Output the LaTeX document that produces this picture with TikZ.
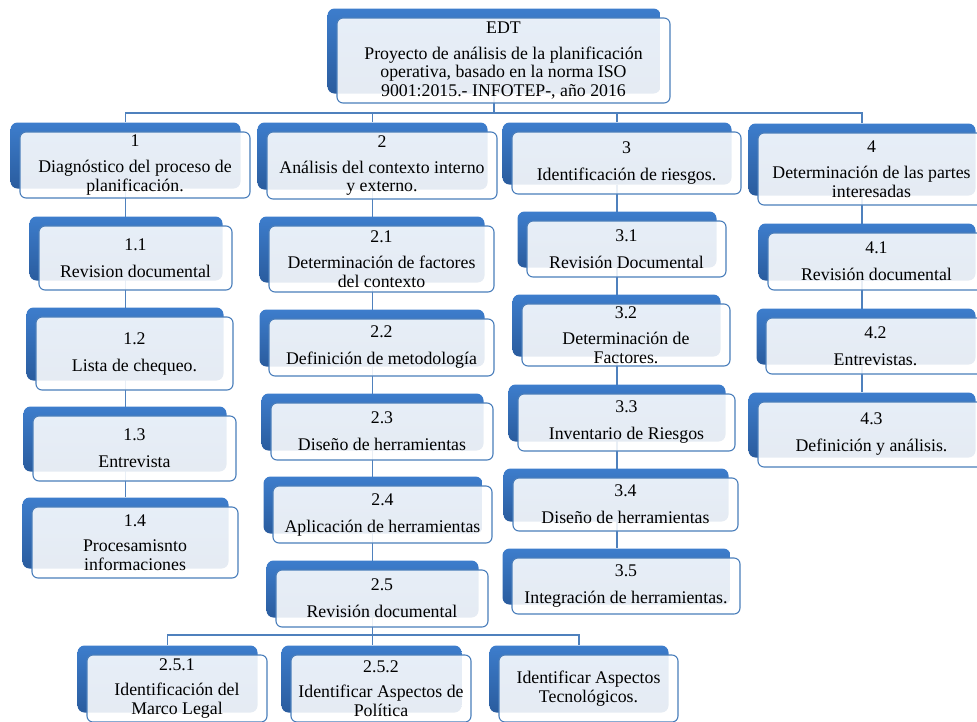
\documentclass[tikz,border=0pt]{standalone}
\usepackage{fontspec}
\setmainfont{Liberation Serif}
\usetikzlibrary{calc}
\definecolor{backtop}{HTML}{3D7DCC}
\definecolor{backbot}{HTML}{2A5C9E}
\definecolor{edge}{HTML}{4A7EBB}
\definecolor{linkc}{HTML}{4F81BD}
\pgfdeclarelayer{bg}
\pgfsetlayers{bg,main}
\tikzset{
  backbox/.style={rounded corners=7pt, top color=backtop, bottom color=backbot,
    draw=none, inner sep=0pt},
  frontbox/.style={rounded corners=6pt, draw=edge, line width=1.1pt, fill=white,
    fill opacity=0.88, text opacity=1, inner sep=0pt, align=center,
    font=\fontsize{17.8}{18.5}\selectfont},
  conn/.style={draw=linkc, line width=1.3pt},
}
% a work package: back plate shifted up-left, translucent front card with the text
\newcommand\wbsbox[6]{%
  \node[backbox, minimum width={(#4-#2)*1pt}, minimum height={(#5-#3)*1pt}]
    (#1-b) at ({(#2+#4)/2-9.5},{(#3+#5)/2-9.5}) {};
  \node[frontbox, minimum width={(#4-#2)*1pt}, minimum height={(#5-#3)*1pt}]
    (#1) at ({(#2+#4)/2},{(#3+#5)/2}) {#6};
}
\begin{document}
\begin{tikzpicture}[x=1pt,y=-1pt]
\useasboundingbox (0,0) rectangle (977,721);
\clip (0,0) rectangle (977,721);

% root
\wbsbox{edt}{337}{18}{670}{103}{EDT\\[7.5pt]Proyecto de análisis de la planificación\\operativa, basado en la norma ISO\\9001:2015.- INFOTEP-, año 2016}

% first level
\wbsbox{n1}{20}{132}{250}{198}{1\\[7.5pt]Diagnóstico del proceso de\\planificación.}
\wbsbox{n2}{267}{132}{497}{199}{2\\[7.5pt]Análisis del contexto interno\\y externo.}
\wbsbox{n3}{512}{132}{741}{194}{3\\[8.5pt]Identificación de riesgos.}
\wbsbox{n4}{758}{133}{985}{205}{4\\[7.5pt]Determinación de las partes\\interesadas}

% branch 1
\wbsbox{n11}{39}{226}{232}{290}{1.1\\[8.5pt]Revision documental}
\wbsbox{n12}{36}{317}{233}{390}{1.2\\[8.5pt]Lista de chequeo.}
\wbsbox{n13}{33}{416}{236}{481}{1.3\\[8.5pt]Entrevista}
\wbsbox{n14}{32}{507}{238}{578}{1.4\\[7pt]Procesamisnto\\informaciones}

% branch 2
\wbsbox{n21}{269}{226}{494}{292}{2.1\\[7.5pt]Determinación de factores\\del contexto}
\wbsbox{n22}{269}{319}{494}{376}{2.2\\[8.5pt]Definición de metodología}
\wbsbox{n23}{271}{403}{493}{460}{2.3\\[8.5pt]Diseño de herramientas}
\wbsbox{n24}{273}{486}{492}{543}{2.4\\[8.5pt]Aplicación de herramientas}
\wbsbox{n25}{276}{570}{488}{627}{2.5\\[8.5pt]Revisión documental}

% branch 2.5
\wbsbox{n251}{87}{655}{267}{722}{2.5.1\\[7pt]Identificación del\\Marco Legal}
\wbsbox{n252}{291}{655}{471}{722}{2.5.2\\[7pt]Identificar Aspectos de\\Política}
\wbsbox{n253}{499}{655}{678}{722}{Identificar Aspectos\\Tecnológicos.}

% branch 3
\wbsbox{n31}{527}{221}{726}{277}{3.1\\[8.5pt]Revisión Documental}
\wbsbox{n32}{522}{304}{730}{366}{3.2\\[7.5pt]Determinación de\\Factores.}
\wbsbox{n33}{518}{394}{735}{451}{3.3\\[8.5pt]Inventario de Riesgos}
\wbsbox{n34}{513}{478}{738}{531}{3.4\\[8.5pt]Diseño de herramientas}
\wbsbox{n35}{512}{558}{740}{614}{3.5\\[8.5pt]Integración de herramientas.}

% branch 4
\wbsbox{n41}{768}{233}{985}{290}{4.1\\[8.5pt]Revisión documental}
\wbsbox{n42}{766}{318}{985}{374}{4.2\\[8.5pt]Entrevistas.}
\wbsbox{n43}{758}{402}{985}{467}{4.3\\[8.5pt]Definición y análisis.}

% connectors, behind the cards
\coordinate (bus) at (0,113);
\coordinate (subbus) at (0,635);
\begin{pgfonlayer}{bg}
  \draw[conn] (edt-b.south) -- (edt-b.south |- bus) -| (n1-b.north);
  \draw[conn] (edt-b.south |- bus) -| (n2-b.north);
  \draw[conn] (edt-b.south |- bus) -| (n3-b.north);
  \draw[conn] (edt-b.south |- bus) -| (n4-b.north);
  \draw[conn] (n1-b.south) -- (n1-b.south |- n14-b.north);
  \draw[conn] (n2-b.south) -- (n2-b.south |- n252-b.north);
  \draw[conn] (n3-b.south) -- (n3-b.south |- n35-b.north);
  \draw[conn] (n4-b.south) -- (n4-b.south |- n43-b.north);
  \draw[conn] (n251-b.north) -- (n251-b.north |- subbus) -| (n253-b.north);
\end{pgfonlayer}
\end{tikzpicture}
\end{document}
